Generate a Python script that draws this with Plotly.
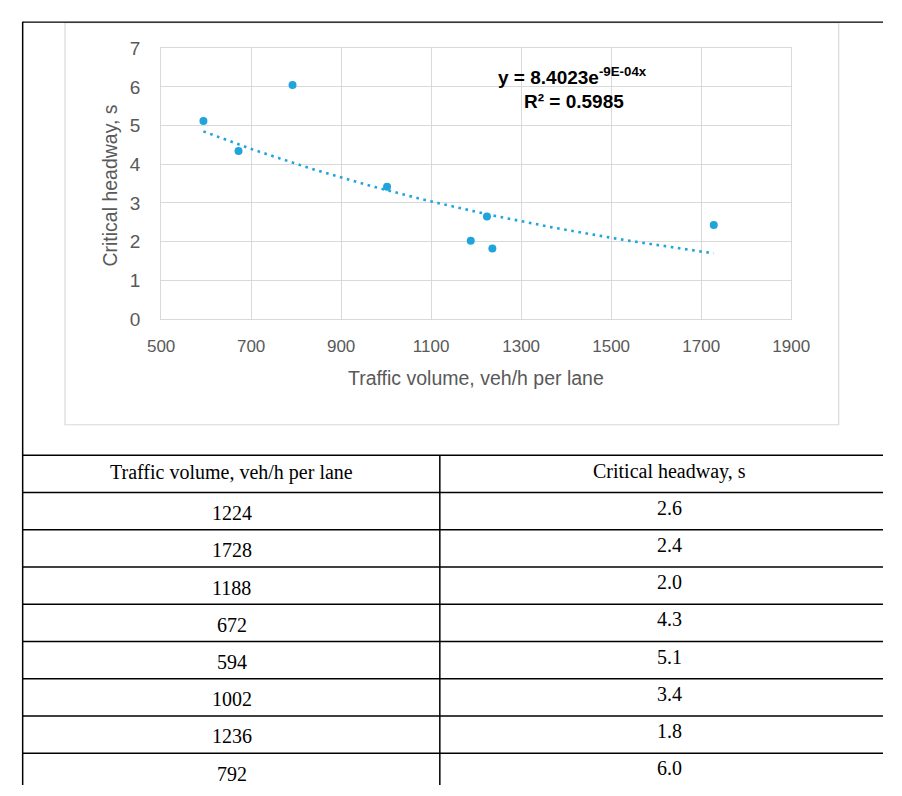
import numpy as np
import plotly.graph_objects as go

# ---------------- data ----------------
traffic_volume = [1224, 1728, 1188, 672, 594, 1002, 1236, 792]
headway_chart = [2.65, 2.43, 2.02, 4.34, 5.12, 3.42, 1.82, 6.05]
headway_table = ["2.6", "2.4", "2.0", "4.3", "5.1", "3.4", "1.8", "6.0"]
volume_table = ["1224", "1728", "1188", "672", "594", "1002", "1236", "792"]
table_headers = ["Traffic volume, veh/h per lane", "Critical headway, s"]
x_ticks = [500, 700, 900, 1100, 1300, 1500, 1700, 1900]
y_ticks = [0, 1, 2, 3, 4, 5, 6, 7]
trend_a = 8.4023
trend_b = -0.000925
eq_line1 = "y = 8.4023e<sup>-9E-04x</sup>"
eq_line2 = "R² = 0.5985"
x_title = "Traffic volume, veh/h per lane"
y_title = "Critical headway, s"

W, H = 902, 796


def px(x):
    return x / W


def py(y):
    return 1 - y / H


BLUE = "#20a4dc"
GRID = "#d9d9d9"
TXT = "#595959"
SANS = "Liberation Sans, Arial, sans-serif"
SERIF = "Liberation Serif, Times New Roman, serif"

fig = go.Figure()

# trendline
tx = np.linspace(min(traffic_volume), max(traffic_volume), 80)
ty = trend_a * np.exp(trend_b * tx)
fig.add_trace(go.Scatter(x=tx, y=ty, mode="lines",
                         line=dict(color=BLUE, width=2.6, dash="2.6px,4.6px"),
                         hoverinfo="skip", showlegend=False))
# points
fig.add_trace(go.Scatter(x=traffic_volume, y=headway_chart, mode="markers",
                         marker=dict(color=BLUE, size=8),
                         showlegend=False))

shapes = []
# chart area light border
shapes.append(dict(type="rect", xref="paper", yref="paper",
                   x0=px(53), x1=px(856), y0=py(426), y1=py(13),
                   line=dict(color=GRID, width=1.2)))
# outer black frame lines
shapes.append(dict(type="line", xref="paper", yref="paper",
                   x0=px(9), x1=px(902), y0=py(12.5), y1=py(12.5),
                   line=dict(color="black", width=1.3)))
shapes.append(dict(type="line", xref="paper", yref="paper",
                   x0=px(9), x1=px(9), y0=py(12), y1=py(796),
                   line=dict(color="black", width=1.5)))

# table
table_top = 457.3
row_h = 38.25
n_rows = len(volume_table) + 1
for i in range(n_rows + 1):
    yy = table_top + i * row_h
    if yy > H:
        break
    shapes.append(dict(type="line", xref="paper", yref="paper",
                       x0=px(9), x1=px(902), y0=py(yy), y1=py(yy),
                       line=dict(color="black", width=1.5)))
shapes.append(dict(type="line", xref="paper", yref="paper",
                   x0=px(442), x1=px(442), y0=py(table_top), y1=py(796),
                   line=dict(color="black", width=1.5)))

annotations = []
col_left_cx = 226
col_right_cx = 680
TFS = 20
annotations.append(dict(xref="paper", yref="paper", x=px(col_left_cx),
                        y=py(table_top + row_h / 2 - 1), text=table_headers[0],
                        showarrow=False, xanchor="center", yanchor="middle",
                        font=dict(family=SERIF, size=TFS, color="black")))
annotations.append(dict(xref="paper", yref="paper", x=px(col_right_cx),
                        y=py(table_top + row_h / 2 - 2), text=table_headers[1],
                        showarrow=False, xanchor="center", yanchor="middle",
                        font=dict(family=SERIF, size=TFS, color="black")))
for i, (v, h) in enumerate(zip(volume_table, headway_table)):
    top = table_top + (i + 1) * row_h
    annotations.append(dict(xref="paper", yref="paper", x=px(col_left_cx),
                            y=py(top + row_h / 2 + 2), text=v,
                            showarrow=False, xanchor="center", yanchor="middle",
                            font=dict(family=SERIF, size=TFS, color="black")))
    annotations.append(dict(xref="paper", yref="paper", x=px(col_right_cx),
                            y=py(top + row_h / 2 - 3.5), text=h,
                            showarrow=False, xanchor="center", yanchor="middle",
                            font=dict(family=SERIF, size=TFS, color="black")))

# axis titles
annotations.append(dict(xref="paper", yref="paper", x=px(480), y=py(378),
                        text=x_title, showarrow=False, xanchor="center",
                        yanchor="middle", font=dict(family=SANS, size=19.5, color=TXT)))
annotations.append(dict(xref="paper", yref="paper", x=px(100), y=py(180),
                        text=y_title, showarrow=False, xanchor="center",
                        yanchor="middle", textangle=-90,
                        font=dict(family=SANS, size=19.5, color=TXT)))
# equation
annotations.append(dict(xref="paper", yref="paper", x=px(580), y=py(68),
                        text="<b>" + eq_line1 + "</b>", showarrow=False,
                        xanchor="center", yanchor="middle",
                        font=dict(family=SANS, size=19, color="black")))
annotations.append(dict(xref="paper", yref="paper", x=px(581), y=py(94),
                        text="<b>" + eq_line2 + "</b>", showarrow=False,
                        xanchor="center", yanchor="middle",
                        font=dict(family=SANS, size=19, color="black")))

fig.update_layout(
    width=W, height=H, autosize=False,
    margin=dict(l=0, r=0, t=0, b=0),
    paper_bgcolor="white", plot_bgcolor="white",
    shapes=shapes, annotations=annotations,
    xaxis=dict(domain=[px(152.7), px(806.7)], range=[500, 1900],
               tickvals=x_ticks, showgrid=True, gridcolor=GRID, gridwidth=1.2,
               zeroline=False, showline=True, linecolor=GRID, linewidth=1.2,
               mirror=True, ticks="", ticklabelstandoff=12,
               tickfont=dict(family=SANS, size=17, color=TXT)),
    yaxis=dict(domain=[py(317.3), py(39.3)], range=[0, 7],
               tickvals=y_ticks, showgrid=True, gridcolor=GRID, gridwidth=1.2,
               zeroline=False, showline=True, linecolor=GRID, linewidth=1.2,
               mirror=True, ticks="", ticklabelstandoff=16,
               tickfont=dict(family=SANS, size=19, color=TXT)),
)

fig.write_html("out.html", config={"displayModeBar": False},
               post_script="document.body.style.margin='0px';document.body.style.overflow='hidden';")
